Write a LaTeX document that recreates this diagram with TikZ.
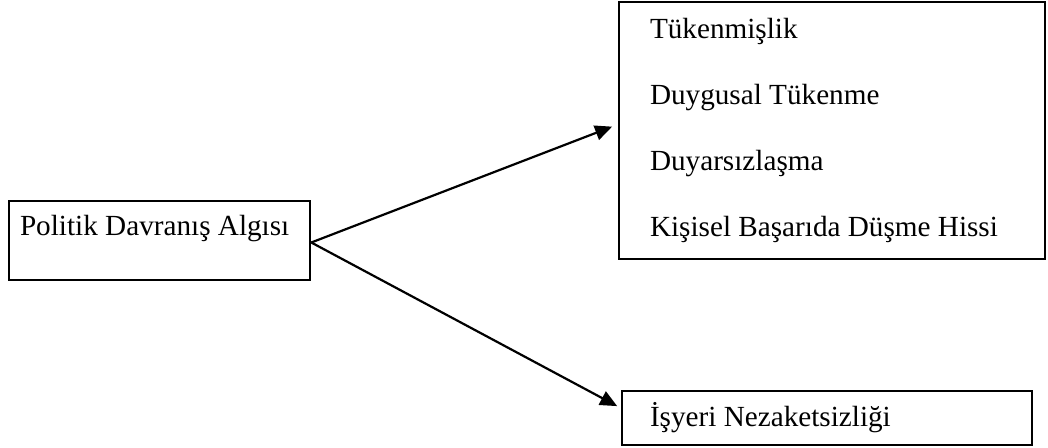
\documentclass[tikz,border=0pt]{standalone}
\usepackage{fontspec}
\setmainfont{Liberation Serif}
\usepackage{tikz}
\usetikzlibrary{arrows.meta}

\begin{document}
\begin{tikzpicture}[x=0.5pt, y=-0.5pt,
  kutu/.style={draw, line width=1.3pt, align=flush left, inner ysep=0pt},
  ok/.style={-{Triangle[length=8.5pt,width=7.5pt]}, line width=1.1pt}]
  \useasboundingbox (0,0) rectangle (1048,448);

  % Nodes
  % Politik davranis
  \node[kutu, text width=139.5pt, inner xsep=5.5pt, inner ysep=4pt,
        text height=13.5pt, text depth=18pt,
        font=\fontsize{14.6}{17}\selectfont] (pda) at (159.5,240.5) {Politik Davranış Algısı};

  % Tukenmislik
  \node[kutu, text width=182pt, inner xsep=15.5pt, minimum height=128.5pt,
        font=\fontsize{14.6}{33}\selectfont] (tuk) at (832,130.5)
        {Tükenmişlik\\Duygusal Tükenme\\Duyarsızlaşma\\Kişisel Başarıda Düşme Hissi};

  % Isyeri nezaketsizligi
  \node[kutu, text width=177pt, inner xsep=14pt, minimum height=27pt,
        font=\fontsize{14.6}{17}\selectfont] (ine) at (827,418) {İşyeri Nezaketsizliği};

  % Arrows
  \draw[ok, shorten >=3pt] ([yshift=-1pt]pda.east) -- ([yshift=3pt]tuk.west);
  \draw[ok, shorten >=2pt] ([yshift=-1pt]pda.east) -- ([yshift=5pt]ine.west);

\end{tikzpicture}
\end{document}
